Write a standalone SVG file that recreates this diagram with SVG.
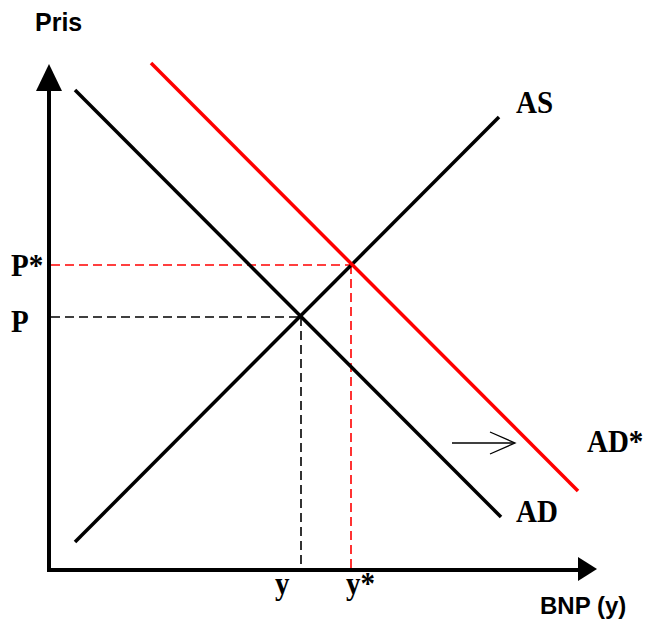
<svg xmlns="http://www.w3.org/2000/svg" width="647" height="621" viewBox="0 0 647 621">
<style>
.ax{stroke:#000;stroke-width:4;fill:none}
.curve{stroke:#000;stroke-width:3.5;fill:none}
.red{stroke:#ff0000;stroke-width:3.5;fill:none}
.dk{stroke:#000;stroke-width:1.6;stroke-dasharray:9 5;fill:none}
.dr{stroke:#ff0000;stroke-width:1.6;stroke-dasharray:9 5;fill:none}
.sans{font-family:"Liberation Sans",Arial,sans-serif;font-weight:bold;fill:#000}
.serif{font-family:"Liberation Serif","Times New Roman",serif;font-weight:bold;fill:#000;font-size:29px}
</style>
<rect width="647" height="621" fill="#fff"/>
<g id="axes">
<line class="ax" x1="49" y1="572" x2="49" y2="86"/>
<polygon points="49,64 62,91 36,91" fill="#000"/>
<line class="ax" x1="47" y1="570" x2="580" y2="570"/>
<polygon points="597,569 578,557 578,581" fill="#000"/>
</g>
<g id="connectors">
<line class="dr" x1="51" y1="265" x2="351" y2="265"/>
<line class="dr" x1="351" y1="265" x2="351" y2="568"/>
<line class="dk" x1="51" y1="317" x2="301" y2="317"/>
<line class="dk" x1="301" y1="317" x2="301" y2="568"/>
</g>
<g id="AD"><line class="curve" x1="75" y1="90" x2="501" y2="517"/></g>
<g id="AS"><line class="curve" x1="75" y1="542" x2="499" y2="117"/></g>
<g id="ADstar"><line class="red" x1="151" y1="63" x2="578" y2="491"/></g>
<g id="shift">
<line x1="452" y1="443" x2="514" y2="443" stroke="#000" stroke-width="1.3"/>
<polyline points="490,432 515,443 490,454" fill="none" stroke="#000" stroke-width="1.3"/>
</g>
<g id="labels">
<text class="sans" x="35" y="31" font-size="25">Pris</text>
<text class="sans" x="540" y="614" font-size="24">BNP (y)</text>
<text class="serif" transform="translate(11,276) scale(1,1.1)">P*</text>
<text class="serif" transform="translate(11,332) scale(1,1.1)">P</text>
<text class="serif" transform="translate(275,594) scale(1,1.1)">y</text>
<text class="serif" transform="translate(346,594) scale(1,1.1)">y*</text>
<text class="serif" transform="translate(516,113) scale(1,1.1)">AS</text>
<text class="serif" transform="translate(516,522) scale(1,1.1)">AD</text>
<text class="serif" transform="translate(587,452) scale(1,1.1)">AD*</text>
</g>
</svg>
